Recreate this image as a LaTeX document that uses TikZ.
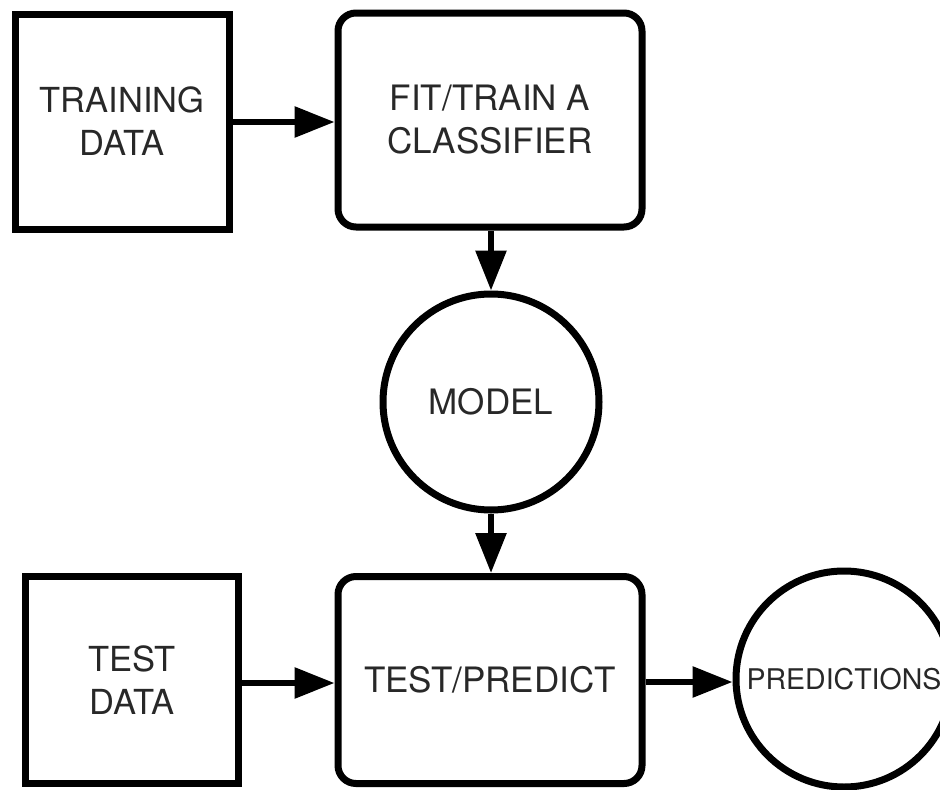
\documentclass[tikz,border=0pt]{standalone}
\usepackage{fontspec}
\setmainfont{TeX Gyre Heros}
\usetikzlibrary{arrows.meta}
\definecolor{labelgray}{RGB}{40,40,40}
\begin{document}
\begin{tikzpicture}[x=1pt,y=-1pt,
  every node/.style={inner sep=0pt, text=labelgray, align=center},
  databox/.style={draw=black, line width=7pt, rectangle,
    font=\fontsize{34.5}{43}\selectfont},
  stepbox/.style={draw=black, line width=7pt, rectangle, rounded corners=18pt,
    minimum width=304pt, font=\fontsize{35}{43}\selectfont},
  roundnode/.style={draw=black, line width=7pt, circle, minimum size=216pt},
  flow/.style={line width=6pt, -{Triangle[length=40pt,width=30pt]}}
]
\useasboundingbox (0,0) rectangle (940,790);
\clip (0,0) rectangle (940,790);

% upper row: training data feeds the classifier
\node[databox, minimum width=214pt, minimum height=215pt] (train) at (122,121.5) {TRAINING\\DATA};
\node[stepbox, minimum height=214pt] (fit) at (490,120) {FIT/TRAIN A\\CLASSIFIER};

% fitted model
\node[roundnode, font=\fontsize{35}{40}\selectfont] (model) at (491,402) {MODEL};

% lower row: test data through prediction
\node[databox, minimum width=213pt, minimum height=207pt] (test) at (132,680) {TEST\\DATA};
\node[stepbox, minimum height=207pt] (predict) at (490,680) {TEST/PREDICT};
\node[roundnode, font=\fontsize{28.5}{32}\selectfont] (preds) at (844,679) {PREDICTIONS};

% connectors
\draw[flow] (train.east |- 0,122) -- (fit.west |- 0,122);
\draw[flow] (fit.south -| 491,0) -- (model.north);
\draw[flow] (model.south) -- (predict.north -| 491,0);
\draw[flow] (test.east |- 0,683) -- (predict.west |- 0,683);
\draw[flow] (predict.east |- 0,682) -- (preds.west |- 0,682);
\end{tikzpicture}
\end{document}
